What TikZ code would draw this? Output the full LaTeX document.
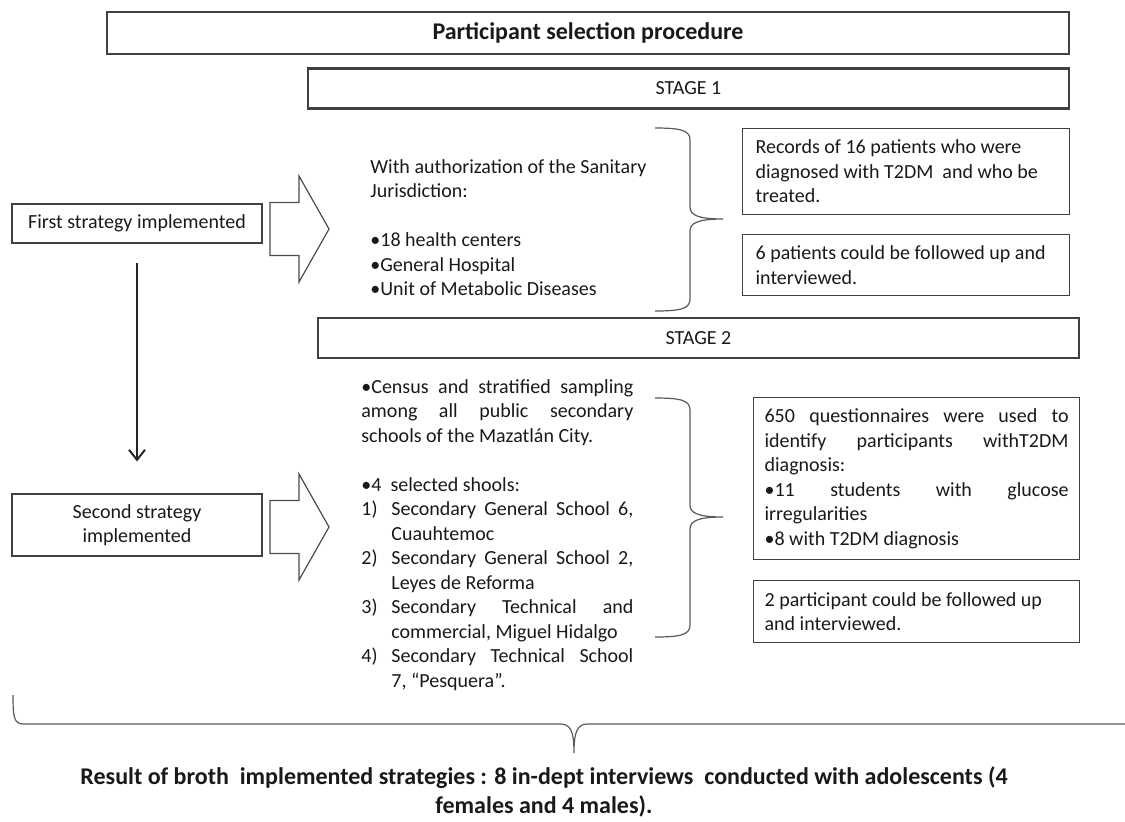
\documentclass[tikz,border=0pt]{standalone}
\usepackage{fontspec}
\setmainfont{Carlito}
\usetikzlibrary{arrows.meta}
\newcommand{\numitem}[2]{\hangindent=15pt\hangafter=1\noindent\makebox[15pt][l]{#1)}#2\par}

\begin{document}
\begin{tikzpicture}[x=0.5pt, y=-0.5pt, >={Straight Barb[length=5pt,width=8pt]},
      txt/.style={font=\fontsize{10}{12.25}\selectfont, text=black!90},
      bigtxt/.style={font=\bfseries\fontsize{12}{14.5}\selectfont, text=black!90},
      box/.style={txt, draw=black!75, line width=0.6pt, inner sep=0pt},
      stagebox/.style={box, line width=1.2pt, minimum width=380.5pt, minimum height=20pt},
      stratbox/.style={box, minimum width=125pt, align=center},
      infobox/.style={box, anchor=north west, inner xsep=6.5pt, text width=150.5pt, align=justify},
      curly/.style={draw=black!65, line width=0.6pt},
      blockarrow/.style={draw=black!70, line width=0.6pt, fill=white}]
      \useasboundingbox (0,0) rectangle (1125,821);

      \node[box, bigtxt, minimum width=481pt, minimum height=21pt] (title) at (588,33) {Participant selection procedure};
      \node[stagebox] (stageone) at (688.5,88.5) {STAGE 1};
      \node[stagebox] (stagetwo) at (698.5,338) {STAGE 2};

      \node[stratbox, minimum height=19.5pt] (firststr) at (137,223.5) {First strategy implemented};
      \node[stratbox, minimum height=31pt] (secondstr) at (137,525) {Second strategy\\implemented};
      \draw[->, draw=black!85, line width=1pt, shorten <=9.5pt, shorten >=16pt] (firststr) -- (secondstr);

      \foreach \yc in {229,527}
        \draw[blockarrow] (270,\yc-26.5) -- (299,\yc-26.5) -- (299,\yc-53) -- (329,\yc) -- (299,\yc+53) -- (299,\yc+26.5) -- (270,\yc+26.5) -- cycle;

      \node[txt, anchor=north west, inner sep=0pt, align=left] (authtext) at (370,159)
        {With authorization of the Sanitary\\Jurisdiction:\\[12.25pt]•18 health centers\\•General Hospital\\•Unit of Metabolic Diseases};

      \node[txt, anchor=north west, inner sep=0pt, text width=136pt, align=justify] (schooltext) at (361,379) {%
        \noindent•Census and stratified sampling\linebreak among all public secondary\linebreak schools of the Mazatlán City.\par
        \vspace{12.25pt}
        \noindent•4\ \ selected shools:\par
        \numitem{1}{Secondary General School 6,\linebreak Cuauhtemoc}
        \numitem{2}{Secondary General School 2,\linebreak Leyes de Reforma}
        \numitem{3}{Secondary Technical and\linebreak commercial, Miguel Hidalgo}
        \numitem{4}{Secondary Technical School\linebreak 7, “Pesquera”.}};

      \node[infobox, minimum height=43pt] (records) at (742,128)
        {\noindent Records of 16 patients who were\newline diagnosed with T2DM\ \ and who be\newline treated.};
      \node[infobox, minimum height=30.5pt] (followone) at (742,234)
        {\noindent 6 patients could be followed up and\newline interviewed.};
      \node[infobox, inner xsep=5.5pt, text width=152pt, minimum height=81pt] (questions) at (753,397) {%
        \noindent650 questionnaires were used to\linebreak identify participants withT2DM\linebreak diagnosis:\par
        \noindent•11 students with glucose\linebreak irregularities\par
        \noindent•8 with T2DM diagnosis};
      \node[infobox, inner xsep=5.5pt, text width=152pt, minimum height=31pt] (followtwo) at (753,580)
        {\noindent 2 participant could be followed up\newline and interviewed.};

      \draw[curly] (655,128) .. controls (680,128) and (690,130) .. (690,140) -- (690,207) .. controls (690,215) and (698,219) .. (723,219)
        .. controls (698,219) and (690,223) .. (690,231) -- (690,299) .. controls (690,309) and (680,311) .. (655,311);
      \draw[curly] (655,398) .. controls (680,398) and (690,400) .. (690,410) -- (690,505) .. controls (690,513) and (698,517) .. (723,517)
        .. controls (698,517) and (690,521) .. (690,529) -- (690,625) .. controls (690,635) and (680,637) .. (655,637);
      \draw[curly] (13,695) .. controls (13,718) and (14,724) .. (24,724) -- (560,724) .. controls (570,724) and (574,730) .. (574,753)
        .. controls (574,730) and (578,724) .. (588,724) -- (1125,724);

      \node[bigtxt, align=center] (result) at (544,792)
        {Result of broth\ \ implemented strategies : 8 in-dept interviews\ \ conducted with adolescents (4\\females and 4 males).};
    \end{tikzpicture}
\end{document}
